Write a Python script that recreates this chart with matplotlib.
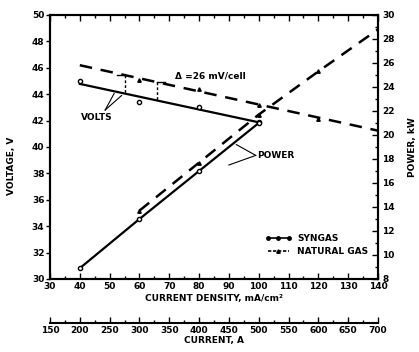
import numpy as np
import matplotlib
matplotlib.use("Agg")
import matplotlib.pyplot as plt
from matplotlib.ticker import MultipleLocator

plt.rcParams['font.family'] = ['DejaVu Sans']
plt.rcParams['font.weight'] = 'bold'

# Data
density = [40, 60, 80, 100]
syn_volts = [45.0, 43.4, 43.0, 41.9]
syn_power = [8.9, 13.0, 17.0, 21.0]
ng_density = [40, 60, 80, 100, 120, 140]
ng_volts = [46.2, 45.1, 44.4, 43.2, 42.1, 41.3]
ng_pdensity = [60, 80, 100, 120, 140]
ng_power = [13.7, 17.7, 21.7, 25.3, 28.8]

fig = plt.figure(figsize=(4.19, 3.52), dpi=100)
ax = fig.add_axes([50/419, 1-279/352, 328/419, 264/352])
ax2 = ax.twinx()

ax.set_xlim(30, 140)
ax.set_ylim(30, 50)
ax2.set_ylim(8, 30)

fs = 6.5
# syngas voltage: fit line + open circles
d = np.array(density, float)
c1 = np.polyfit(d, syn_volts, 1)
ax.plot([d[0], d[-1]], np.polyval(c1, [d[0], d[-1]]), color='black', lw=1.6)
ax.plot(density, syn_volts, 'o', ms=3, mfc='white', mec='black', mew=1)

# natural gas voltage: dashed fit
nd = np.array(ng_density, float)
c2 = np.polyfit(nd, ng_volts, 1)
ax.plot([nd[0], nd[-1]], np.polyval(c2, [nd[0], nd[-1]]), color='black', lw=1.8,
        dashes=(5, 3.5))
ax.plot(ng_density[1:-1], ng_volts[1:-1], '^', ms=2.5, color='black')

# power
ax2.plot(density, syn_power, '-o', color='black', lw=1.6, ms=3, mfc='white', mec='black', mew=1)
ax2.plot(ng_pdensity, ng_power, color='black', lw=1.8, dashes=(5, 3.5))
ax2.plot(ng_pdensity[:-1], ng_power[:-1], '^', ms=2.5, color='black')

# delta brackets
for xb, dx in [(55, -2.5), (66, 2.5)]:
    top = np.polyval(c2, xb)
    bot = np.polyval(c1, xb)
    ax.plot([xb + dx, xb], [top, top], color='black', lw=1.0)
    ax.plot([xb, xb], [top, bot], color='black', lw=1.0, dashes=(2, 1.5))

# annotations
ax.text(40.5, 42.2, 'VOLTS', fontsize=fs, fontweight='bold', va='center')
ax.plot([48.5, 51.5], [42.8, 44.05], color='black', lw=0.8)
ax.plot([48.5, 54], [42.8, 43.9], color='black', lw=0.8)
ax.text(72, 45.4, 'Δ =26 mV/cell', fontsize=fs, fontweight='bold', va='center')
ax2.text(99.5, 18.3, 'POWER', fontsize=fs, fontweight='bold', va='center')
ax2.plot([99, 92.5], [18.3, 19.2], color='black', lw=0.8)
ax2.plot([99, 90], [18.3, 17.5], color='black', lw=0.8)

# legend
ax.plot([103, 110], [33.1, 33.1], '-o', color='black', lw=1.2, ms=2.5,
        markevery=[0, 1])
ax.plot([106.5], [33.1], 'o', color='black', ms=2.5)
ax.plot([103, 110], [32.1, 32.1], color='black', lw=1.2, dashes=(2, 1))
ax.plot([106.5], [32.1], '^', color='black', ms=2.5)
ax.text(113, 33.1, 'SYNGAS', fontsize=fs, fontweight='bold', va='center')
ax.text(113, 32.1, 'NATURAL GAS', fontsize=fs, fontweight='bold', va='center')

# ticks
ax.xaxis.set_major_locator(MultipleLocator(10))
ax.xaxis.set_minor_locator(MultipleLocator(5))
ax.yaxis.set_major_locator(MultipleLocator(2))
ax.yaxis.set_minor_locator(MultipleLocator(1))
ax2.yaxis.set_major_locator(MultipleLocator(2))
ax2.yaxis.set_minor_locator(MultipleLocator(1))
ax.tick_params(axis='x', which='both', direction='in', top=True, labelsize=fs, pad=2.5)
ax.tick_params(axis='x', which='major', length=4, width=1)
ax.tick_params(axis='x', which='minor', length=2.5, width=1)
ax.tick_params(axis='y', which='both', direction='out', labelsize=fs, pad=1)
ax.tick_params(axis='y', which='major', length=3, width=1)
ax.tick_params(axis='y', which='minor', length=0)
ax2.tick_params(axis='y', which='both', direction='in', labelsize=fs, pad=3)
ax2.tick_params(axis='y', which='major', length=4, width=1)
ax2.tick_params(axis='y', which='minor', length=2.5, width=1)
for lab in ax.get_xticklabels() + ax.get_yticklabels() + ax2.get_yticklabels():
    lab.set_fontweight('bold')
for a in (ax, ax2):
    for s in a.spines.values():
        s.set_linewidth(1.5)

ax.set_xlabel('CURRENT DENSITY, mA/cm²', fontsize=fs, fontweight='bold', labelpad=2)
ax.set_ylabel('VOLTAGE, V', fontsize=fs, fontweight='bold')
ax.yaxis.set_label_coords(-0.105, 0.43)
ax2.set_ylabel('POWER, kW', fontsize=fs, fontweight='bold')
ax2.yaxis.set_label_coords(1.09, 0.5)

# secondary current axis
sec = ax.secondary_xaxis(-44/264, functions=(lambda x: x * 5, lambda x: x / 5))
sec.xaxis.set_major_locator(MultipleLocator(50))
sec.xaxis.set_minor_locator(MultipleLocator(25))
sec.tick_params(which='both', direction='in', labelsize=fs, pad=2)
sec.tick_params(which='major', length=4, width=1)
sec.tick_params(which='minor', length=2.5, width=1)
sec.spines['bottom'].set_linewidth(1.5)
for lab in sec.get_xticklabels():
    lab.set_fontweight('bold')
sec.set_xlabel('CURRENT, A', fontsize=fs, fontweight='bold', labelpad=1)

fig.savefig('out.png', dpi=100)
